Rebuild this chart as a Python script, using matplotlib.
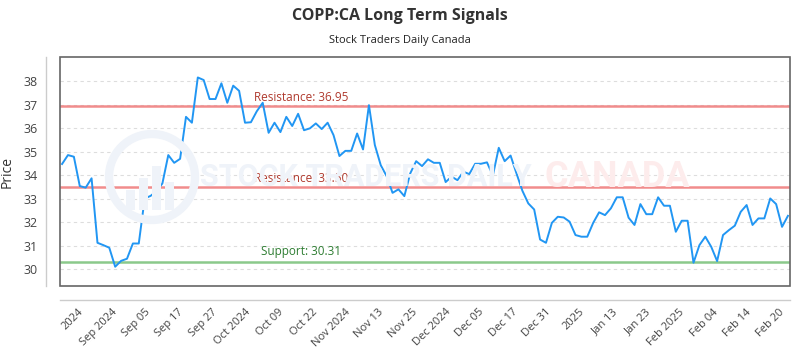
import numpy as np
import matplotlib.pyplot as plt
from matplotlib.patches import Ellipse, Rectangle

plt.rcParams['font.family'] = ['Open Sans', 'DejaVu Sans']

# ---------------------------------------------------------
# DATA
# ---------------------------------------------------------
title = "COPP:CA Long Term Signals"
subtitle = "Stock Traders Daily Canada"

prices = [
    34.48, 34.86, 34.79, 33.54, 33.47, 33.87, 31.12, 31.02, 30.91, 30.10,
    30.35, 30.44, 31.09, 31.09, 33.01, 33.12, 33.32, 33.65, 34.86, 34.53,
    34.70, 36.49, 36.24, 38.17, 38.06, 37.25, 37.25, 37.92, 37.09, 37.82,
    37.60, 36.24, 36.26, 36.73, 37.09, 35.81, 36.24, 35.84, 36.49, 36.10,
    36.62, 35.92, 36.00, 36.21, 35.97, 36.24, 35.71, 34.82, 35.04, 35.04,
    35.78, 35.10, 36.99, 35.29, 34.43, 33.96, 33.25, 33.40, 33.11, 34.08,
    34.60, 34.39, 34.68, 34.53, 34.53, 33.71, 33.94, 33.79, 34.15, 34.05,
    34.49, 34.49, 34.55, 33.99, 35.17, 34.60, 34.84, 34.08, 33.34, 32.80,
    32.54, 31.26, 31.12, 31.97, 32.23, 32.20, 32.02, 31.45, 31.38, 31.38,
    31.97, 32.42, 32.30, 32.59, 33.06, 33.06, 32.19, 31.88, 32.77, 32.34,
    32.34, 33.06, 32.70, 32.70, 31.59, 32.06, 32.06, 30.27, 31.02, 31.38,
    30.95, 30.34, 31.45, 31.66, 31.85, 32.44, 32.73, 31.88, 32.16, 32.16,
    33.01, 32.77, 31.80, 32.27,
]

tick_labels = [
    "2024", "Sep 2024", "Sep 05", "Sep 17", "Sep 27", "Oct 2024", "Oct 09",
    "Oct 22", "Nov 2024", "Nov 13", "Nov 25", "Dec 2024", "Dec 05", "Dec 17",
    "Dec 31", "2025", "Jan 13", "Jan 23", "Feb 2025", "Feb 04", "Feb 14",
    "Feb 20",
]

resistance_hi = 36.95
resistance_lo = 33.50
support = 30.31

# ---------------------------------------------------------
# PLOT
# ---------------------------------------------------------
fig = plt.figure(figsize=(8, 3.5), dpi=100)
ax = fig.add_axes([0.075, 0.183, 0.9125, 0.654])
ax.set_facecolor('none')

# watermark (behind everything)
wm_blue = '#eff3f9'
fig.patches.append(Ellipse((152 / 800, 1 - 177 / 350), 86 / 800, 86 / 350,
                           transform=fig.transFigure, facecolor='none',
                           edgecolor=wm_blue, linewidth=6, zorder=0))
for i, h in enumerate([20, 32, 44, 28]):
    fig.patches.append(Rectangle(((126 + i * 13) / 800, (350 - 210) / 350),
                                 9 / 800, h / 350, transform=fig.transFigure,
                                 facecolor=wm_blue, edgecolor='none', zorder=0))
fig.text(200 / 800, 1 - 177 / 350, "STOCK TRADERS DAILY", fontsize=22,
         color=wm_blue, ha='left', va='center', fontweight='bold',
         family='Roboto', fontstretch='condensed', zorder=0)
fig.text(545 / 800, 1 - 177 / 350, "CANADA", fontsize=26, color='#fdecec',
         ha='left', va='center', fontweight='bold', family='Roboto', zorder=0)

x = np.arange(len(prices))
ax.plot(x, prices, color='#2196f3', linewidth=1.4, zorder=3)

ax.axhline(resistance_hi, color='#f08080', linewidth=1.8, alpha=0.9, zorder=2)
ax.axhline(resistance_lo, color='#f08080', linewidth=1.8, alpha=0.9, zorder=2)
ax.axhline(support, color='#8bc98b', linewidth=1.8, zorder=2)

mid = 40.5
ax.text(mid, resistance_hi + 0.08, f"Resistance: {resistance_hi:.2f}",
        ha='center', va='bottom', color='#b03a2e', fontsize=8.5, zorder=4)
ax.text(mid, resistance_lo + 0.08, f"Resistance: {resistance_lo:.2f}",
        ha='center', va='bottom', color='#b03a2e', fontsize=8.5, zorder=4)
ax.text(mid, support + 0.15, f"Support: {support:.2f}",
        ha='center', va='bottom', color='#2e7d32', fontsize=8.5, zorder=4)

ax.set_xlim(-0.35, len(prices) - 1 + 0.35)
ax.set_ylim(29.28, 39.04)
ax.set_yticks(range(30, 39))
ax.yaxis.grid(True, color='#dddddd', linestyle=(0, (3, 3)), linewidth=0.8)
ax.set_axisbelow(True)

# dark box round the plot, light axis lines offset outward
ax.add_patch(Rectangle((0, 0), 1, 1, transform=ax.transAxes, fill=False,
                       edgecolor='#666666', linewidth=1.2, zorder=5,
                       clip_on=False))
for side in ['top', 'right']:
    ax.spines[side].set_visible(False)
for side in ['left', 'bottom']:
    ax.spines[side].set_position(('outward', 10))
    ax.spines[side].set_color('#cccccc')
    ax.spines[side].set_linewidth(1)
ax.spines['bottom'].set_bounds(-0.35, len(prices) - 1 + 0.35)

# ticks after the spines are moved (moving them resets the ticks)
ax.set_xticks(np.linspace(2.7, 121.5, len(tick_labels)))
ax.set_xticklabels(tick_labels, fontsize=8, color='#444444')
ax.tick_params(axis='y', labelsize=9, colors='#444444', length=0, pad=6)
ax.tick_params(axis='x', length=0, pad=5, labelrotation=45)
plt.setp(ax.get_xticklabels(), ha='right', rotation_mode='anchor')

ax.set_ylabel("Price", fontsize=10, color='#333333')
ax.yaxis.set_label_coords(-0.062, 0.5)

fig.text(0.5, 1 - 16 / 350, title, ha='center', va='center', fontsize=11.5,
         fontweight='bold', color='#333333')
fig.text(0.5, 1 - 40 / 350, subtitle, ha='center', va='center', fontsize=8,
         color='#222222')

fig.savefig("out.png", dpi=100)
